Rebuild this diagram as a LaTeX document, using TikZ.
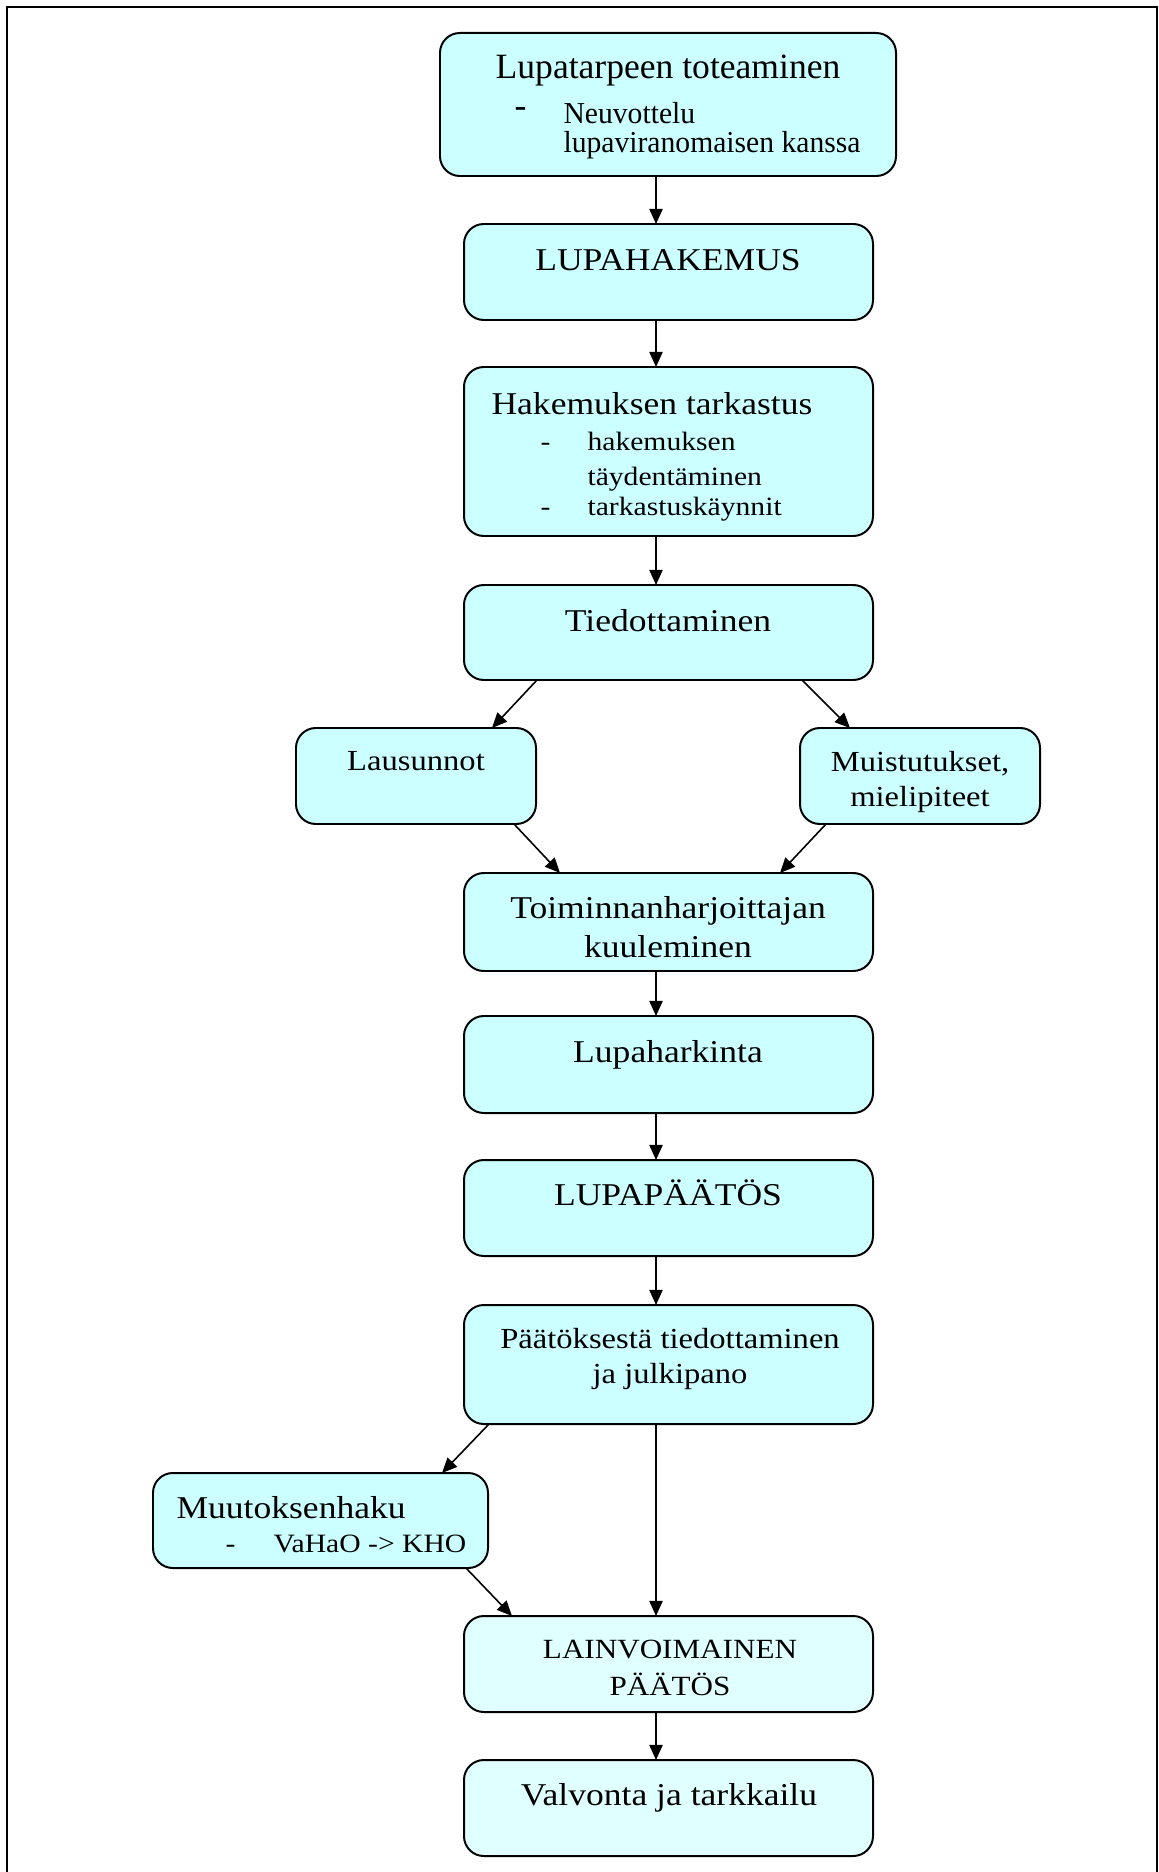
\documentclass[tikz,border=0pt]{standalone}
\usepackage{fontspec}
\setmainfont{Liberation Serif}[FakeStretch=1.12]
\usepackage{graphicx}
\usetikzlibrary{arrows.meta}
\definecolor{boxfill}{HTML}{CCFFFF}
\definecolor{boxfillb}{HTML}{E0FFFF}
\newcommand{\vst}[2]{\scalebox{1}[#1]{#2}}
\newcommand{\bx}[6][]{\node[box,#1,minimum width={(#4-#2)*0.378pt},minimum height={(#5-#3)*0.378pt}] (#6) at ({(#2+#4)/2},{(#3+#5)/2}) {};}
\begin{document}
\begin{tikzpicture}[x=0.378pt,y=-0.378pt,
  box/.style={draw=black, line width=0.75pt, rounded corners=7.5pt, fill=boxfill, inner sep=0pt, outer sep=0pt},
  boxb/.style={fill=boxfillb},
  ttl/.style={inner sep=0pt, font=\fontsize{12}{14}\selectfont, anchor=base},
  mid/.style={inner sep=0pt, font=\fontsize{11}{13}\selectfont, anchor=base},
  sub/.style={inner sep=0pt, font=\fontsize{10}{12}\selectfont, anchor=base west},
  arr/.style={line width=0.6pt, -{Triangle[length=5.7pt,width=5pt]}},
  frame/.style={line width=1pt}
]
\useasboundingbox (0,0) rectangle (1158,1872);
\draw[frame] (7,1872) -- (7,7) -- (1157,7) -- (1157,1872);

% boxes
\bx{440}{33}{896}{176}{b1}
\bx{464}{224}{873}{320}{b2}
\bx{464}{367}{873}{536}{b3}
\bx{464}{585}{873}{680}{b4}
\bx{296}{728}{536}{824}{b5}
\bx{800}{728}{1040}{824}{b6}
\bx{464}{873}{873}{971}{b7}
\bx{464}{1016}{873}{1113}{b8}
\bx{464}{1160}{873}{1256}{b9}
\bx{464}{1305}{873}{1424}{b10}
\bx{153}{1473}{488}{1568}{b11}
\bx[boxb]{464}{1616}{873}{1712}{b12}
\bx[boxb]{464}{1760}{873}{1856}{b13}

% texts
\node[ttl] (t1) at (668,79) {\vst{1.12}{Lupatarpeen toteaminen}};
\node[sub,font=\fontsize{12}{14}\selectfont] (t1d) at (514,118) {\vst{1.15}{-}};
\node[sub] (t1a) at (563,124) {\vst{1.15}{Neuvottelu}};
\node[sub] (t1b) at (563,153) {\vst{1.15}{lupaviranomaisen kanssa}};

\node[ttl] (t2) at (668,271) {LUPAHAKEMUS};

\node[ttl,anchor=base west] (t3) at (491,415) {Hakemuksen tarkastus};
\node[sub] (t3d) at (540,451) {-};
\node[sub] (t3a) at (587,451) {hakemuksen};
\node[sub] (t3b) at (587,486) {täydentäminen};
\node[sub] (t3e) at (540,516) {-};
\node[sub] (t3c) at (587,516) {tarkastuskäynnit};

\node[ttl] (t4) at (668,631) {Tiedottaminen};

\node[mid] (t5) at (416,770) {Lausunnot};
\node[mid] (t6a) at (920,771) {Muistutukset,};
\node[mid] (t6b) at (920,806) {mielipiteet};

\node[ttl] (t7a) at (668,918) {Toiminnanharjoittajan};
\node[ttl] (t7b) at (668,957) {kuuleminen};

\node[ttl] (t8) at (668,1062) {Lupaharkinta};
\node[ttl] (t9) at (668,1205) {LUPAPÄÄTÖS};

\node[mid] (t10a) at (670,1348) {Päätöksestä tiedottaminen};
\node[mid] (t10b) at (670,1383) {ja julkipano};

\node[ttl,anchor=base west] (t11) at (176,1518) {Muutoksenhaku};
\node[sub] (t11d) at (225,1552) {-};
\node[sub] (t11a) at (273,1552) {VaHaO -> KHO};

\node[ttl,font=\fontsize{10.5}{12}\selectfont] (t12a) at (670,1658) {LAINVOIMAINEN};
\node[ttl,font=\fontsize{10.5}{12}\selectfont] (t12b) at (670,1695) {PÄÄTÖS};

\node[ttl] (t13) at (669,1805) {Valvonta ja tarkkailu};

% arrow x positions
\coordinate (xm) at (656,0);
\coordinate (xa) at (537,0);
\coordinate (xb) at (492,0);
\coordinate (xc) at (802,0);
\coordinate (xd) at (850,0);
\coordinate (xe) at (514,0);
\coordinate (xf) at (560,0);
\coordinate (xg) at (826,0);
\coordinate (xh) at (780,0);
\coordinate (xi) at (489,0);
\coordinate (xj) at (442,0);
\coordinate (xk) at (466,0);
\coordinate (xl) at (512,0);

\draw[arr] (b1.south -| xm) -- (b2.north -| xm);
\draw[arr] (b2.south -| xm) -- (b3.north -| xm);
\draw[arr] (b3.south -| xm) -- (b4.north -| xm);
\draw[arr] (b4.south -| xa) -- (b5.north -| xb);
\draw[arr] (b4.south -| xc) -- (b6.north -| xd);
\draw[arr] (b5.south -| xe) -- (b7.north -| xf);
\draw[arr] (b6.south -| xg) -- (b7.north -| xh);
\draw[arr] (b7.south -| xm) -- (b8.north -| xm);
\draw[arr] (b8.south -| xm) -- (b9.north -| xm);
\draw[arr] (b9.south -| xm) -- (b10.north -| xm);
\draw[arr] (b10.south -| xi) -- (b11.north -| xj);
\draw[arr] (b10.south -| xm) -- (b12.north -| xm);
\draw[arr] (b11.south -| xk) -- (b12.north -| xl);
\draw[arr] (b12.south -| xm) -- (b13.north -| xm);
\end{tikzpicture}
\end{document}
